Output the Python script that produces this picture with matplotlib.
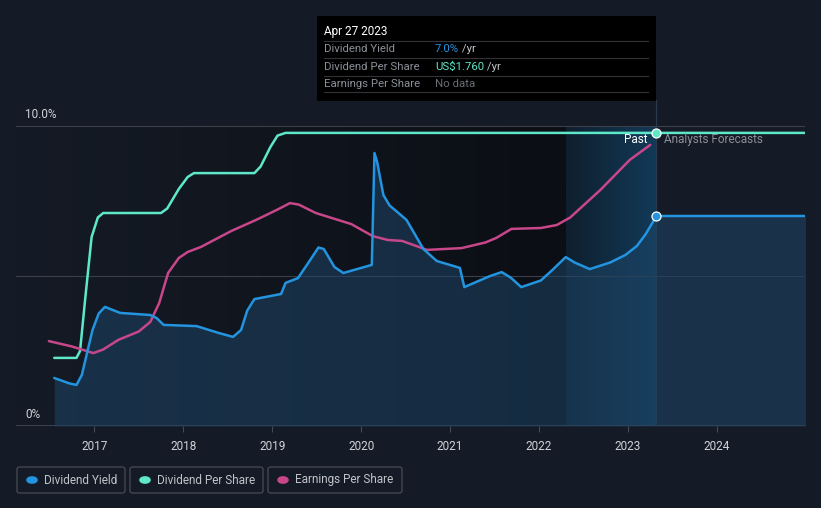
import matplotlib.pyplot as plt
import numpy as np
from matplotlib.patches import Rectangle, FancyBboxPatch
from matplotlib.colors import LinearSegmentedColormap

plt.rcParams["font.family"] = ["Roboto", "DejaVu Sans"]

# dividend yield (%)
dy_x = [2016.55, 2016.72, 2016.80, 2016.86, 2016.98, 2017.05, 2017.12, 2017.29, 2017.63, 2017.70,
        2017.78, 2018.15, 2018.40, 2018.56, 2018.65, 2018.72, 2018.80, 2019.10, 2019.15, 2019.29,
        2019.42, 2019.52, 2019.58, 2019.70, 2019.80, 2020.12, 2020.15, 2020.18, 2020.25, 2020.32,
        2020.40, 2020.51, 2020.70, 2020.85, 2021.11, 2021.16, 2021.45, 2021.58, 2021.68, 2021.80,
        2022.02, 2022.15, 2022.30, 2022.40, 2022.57, 2022.80, 2022.97, 2023.10, 2023.20, 2023.32,
        2025.0]
dy_y = [1.60, 1.42, 1.37, 1.70, 3.20, 3.75, 3.97, 3.77, 3.70, 3.60,
        3.37, 3.33, 3.10, 2.97, 3.20, 3.85, 4.23, 4.40, 4.77, 4.93,
        5.50, 5.95, 5.90, 5.30, 5.10, 5.37, 9.10, 8.80, 7.70, 7.35,
        7.15, 6.87, 5.90, 5.50, 5.27, 4.63, 5.00, 5.13, 4.95, 4.63,
        4.85, 5.20, 5.63, 5.45, 5.23, 5.45, 5.70, 6.00, 6.40, 7.00,
        7.00]

# dividend per share (scaled to chart height)
dps_x = [2016.55, 2016.80, 2016.84, 2016.90, 2016.97, 2017.04, 2017.10, 2017.75, 2017.82,
         2017.95, 2018.05, 2018.12, 2018.80, 2018.87, 2018.98, 2019.06, 2019.15, 2025.0]
dps_y = [2.27, 2.27, 2.50, 4.30, 6.30, 6.95, 7.10, 7.10, 7.25,
         7.90, 8.30, 8.43, 8.43, 8.65, 9.30, 9.68, 9.77, 9.77]

# earnings per share (scaled to chart height)
eps_x = [2016.49, 2016.75, 2016.99, 2017.10, 2017.27, 2017.50, 2017.63, 2017.73, 2017.83,
         2017.95, 2018.05, 2018.20, 2018.54, 2018.82, 2019.05, 2019.20, 2019.30, 2019.49,
         2019.89, 2020.13, 2020.30, 2020.46, 2020.74, 2021.13, 2021.40, 2021.52, 2021.69,
         2022.02, 2022.20, 2022.35, 2022.69, 2023.02, 2023.25]
eps_y = [2.83, 2.65, 2.43, 2.55, 2.87, 3.15, 3.47, 4.10, 5.10,
         5.60, 5.80, 5.97, 6.50, 6.87, 7.20, 7.43, 7.38, 7.10,
         6.73, 6.33, 6.20, 6.17, 5.87, 5.93, 6.12, 6.27, 6.57,
         6.60, 6.70, 6.95, 7.87, 8.87, 9.37]

years = [2017, 2018, 2019, 2020, 2021, 2022, 2023, 2024]
now_x = 2023.32
fc_start = 2022.30

W, H = 821, 508
bg = "#151b26"
fig = plt.figure(figsize=(W / 100, H / 100), dpi=100, facecolor=bg)
ax = fig.add_axes([16 / W, (H - 426) / H, (805 - 16) / W, (426 - 100) / H])
ax.set_facecolor(bg)
x0, x1 = 2016.12, 2024.99
ytop = (426 - 100) / 30
ax.set_xlim(x0, x1)
ax.set_ylim(0, ytop)

# darker past region with gradient
grad = np.linspace(0, 1, 256).reshape(1, -1)
cm = LinearSegmentedColormap.from_list("g", [bg, "#0b0e14"])
ax.imshow(grad, extent=[x0, fc_start, 0, 10], aspect="auto", cmap=cm, zorder=0)
cm2 = LinearSegmentedColormap.from_list("g2", ["#0f1f2e", "#123a58"])
ax.imshow(grad, extent=[fc_start, now_x, 0, 10], aspect="auto", cmap=cm2, zorder=0)

for v in [5, 10]:
    ax.axhline(v, color="#3a3f4a", lw=0.8, zorder=1)
ax.axhline(0, color="#454a55", lw=1.2, zorder=1)
ax.axvline(now_x, ymin=0, ymax=1, color="#2a3a4c", lw=0.8, zorder=1)

ax.fill_between(dy_x, dy_y, 0, color="#1d4466", alpha=0.55, lw=0, zorder=2)
ax.plot(dps_x, dps_y, color="#5ee8c9", lw=1.8, zorder=3, solid_capstyle="round", solid_joinstyle="round")
ax.plot(eps_x, eps_y, color="#c7478a", lw=1.8, zorder=3, solid_capstyle="round", solid_joinstyle="round")
ax.plot(dy_x, dy_y, color="#2394df", lw=1.8, zorder=4, solid_capstyle="round", solid_joinstyle="round")
ax.scatter([now_x], [7.0], s=42, color="#2394df", edgecolor="white", lw=0.9, zorder=5)
ax.scatter([now_x], [9.77], s=42, color="#5ee8c9", edgecolor="white", lw=0.9, zorder=5)

ax.text(now_x - 0.1, 9.55, "Past", color="white", fontsize=8.5, ha="right", va="center", zorder=6)
ax.text(now_x + 0.09, 9.55, "Analysts Forecasts", color="#8a8f98", fontsize=8.5, ha="left",
        va="center", zorder=6)

ax.set_xticks(years)
ax.set_xticklabels([str(y) for y in years], color="#d0d3d8", fontsize=8.5)
ax.tick_params(axis="x", length=4, color="#454a55", pad=6)
ax.set_yticks([])
for s in ax.spines.values():
    s.set_visible(False)

ax.text(9 / (805 - 16), 10.4, "10.0%", transform=ax.get_yaxis_transform(),
        color="#d0d3d8", fontsize=8.5, va="center")
ax.text(9 / (805 - 16), 0.4, "0%", transform=ax.get_yaxis_transform(),
        color="#d0d3d8", fontsize=8.5, va="center")


def fx(px):
    return px / W


def fy(py):
    return 1 - py / H


# tooltip
fig.patches.append(Rectangle((fx(317), fy(101)), fx(656) - fx(317), fy(16) - fy(101),
                             transform=fig.transFigure, facecolor="#000000", edgecolor="none",
                             zorder=10))
fig.text(fx(324), fy(31), "Apr 27 2023", color="white", fontsize=8.5, va="center", zorder=11)
rows = [("Dividend Yield", "7.0%", "#2394df", " /yr"),
        ("Dividend Per Share", "US$1.760", "#5ee8c9", " /yr"),
        ("Earnings Per Share", "No data", "#6a6e75", "")]
for i, (lab, val, col, suf) in enumerate(rows):
    yy = 49 + i * 17.5
    fig.lines.append(plt.Line2D([fx(324), fx(648)], [fy(yy - 8.5), fy(yy - 8.5)],
                                transform=fig.transFigure, color="#303338", lw=0.8, zorder=11))
    fig.text(fx(324), fy(yy), lab, color="#8a8f98", fontsize=8.2, va="center", zorder=11)
    t = fig.text(fx(435), fy(yy), val, color=col, fontsize=8.2, va="center", zorder=11)
    if suf:
        fig.canvas.draw()
        bb = t.get_window_extent()
        fig.text(bb.x1 / W, fy(yy), suf, color="#c0c3c8", fontsize=8.2, va="center", zorder=11)
fig.lines.append(plt.Line2D([fx(324), fx(648)], [fy(92), fy(92)], transform=fig.transFigure,
                            color="#303338", lw=0.8, zorder=11))

# legend boxes
legend = [("Dividend Yield", "#2394df", 17, 125), ("Dividend Per Share", "#5ee8c9", 130, 263),
          ("Earnings Per Share", "#c7478a", 268, 402)]
for lab, col, l, r in legend:
    fig.patches.append(FancyBboxPatch((fx(l), fy(493)), fx(r) - fx(l), fy(467) - fy(493),
                                      boxstyle="round,pad=0,rounding_size=0.004",
                                      transform=fig.transFigure, facecolor="none",
                                      edgecolor="#41464f", lw=1))
    fig.patches.append(plt.Circle((fx(l + 15), fy(480)), 0.0062, transform=fig.transFigure,
                                  color=col))
    fig.text(fx(l + 27), fy(480), lab, color="#c0c3c8", fontsize=8.5, va="center")

fig.savefig("out.png", dpi=100, facecolor=bg)
